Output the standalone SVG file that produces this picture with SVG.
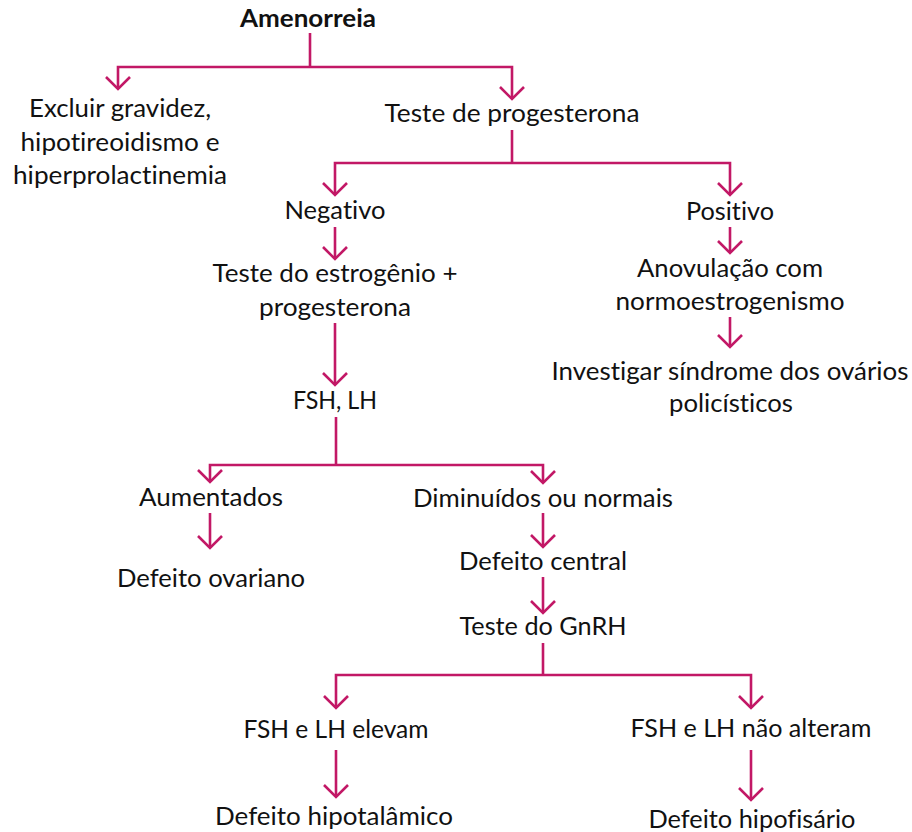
<svg xmlns="http://www.w3.org/2000/svg" width="912" height="832" viewBox="0 0 912 832">
  <style>
    text { font-family: Lato, "Liberation Sans", sans-serif; font-size: 25px; fill: #111; text-anchor: middle; font-variant-ligatures: none; font-feature-settings: "liga" 0, "clig" 0; }
    .title { font-weight: bold; }
    .link { fill: none; stroke: #C21866; stroke-width: 2.6; stroke-linejoin: miter; }
    .arr { marker-end: url(#head); }
  </style>
  <defs>
    <marker id="head" viewBox="-14 -14 28 28" markerWidth="28" markerHeight="28" refX="0" refY="0" orient="auto" markerUnits="userSpaceOnUse">
      <path d="M-12,-12 L0,0 L-12,12" fill="none" stroke="#C21866" stroke-width="2.6"/>
    </marker>
  </defs>

  <!-- connectors -->
  <g id="connectors">
    <path class="link" d="M310,33 V67"/>
    <path class="link arr" d="M310,67 H118 V89"/>
    <path class="link arr" d="M310,67 H512 V99"/>
    <path class="link" d="M512,130 V163"/>
    <path class="link arr" d="M512,163 H335 V195"/>
    <path class="link arr" d="M512,163 H730 V195"/>
    <path class="link arr" d="M335,227 V259"/>
    <path class="link arr" d="M335,323 V385"/>
    <path class="link arr" d="M730,227 V253"/>
    <path class="link arr" d="M730,317 V347"/>
    <path class="link" d="M336,417 V465"/>
    <path class="link arr" d="M336,465 H210 V482"/>
    <path class="link arr" d="M336,465 H543 V483"/>
    <path class="link arr" d="M210,513 V548"/>
    <path class="link arr" d="M543,513 V547"/>
    <path class="link arr" d="M543,577 V613"/>
    <path class="link" d="M543,643 V675"/>
    <path class="link arr" d="M543,675 H336 V708"/>
    <path class="link arr" d="M543,675 H751 V708"/>
    <path class="link arr" d="M336,750 V797"/>
    <path class="link arr" d="M751,750 V800"/>
  </g>

  <!-- nodes -->
  <g id="amenorreia"><text class="title" x="308" y="27" textLength="136" lengthAdjust="spacingAndGlyphs">Amenorreia</text></g>
  <g id="excluir">
    <text x="120" y="117" textLength="182" lengthAdjust="spacingAndGlyphs">Excluir gravidez,</text>
    <text x="120" y="151" textLength="199" lengthAdjust="spacingAndGlyphs">hipotireoidismo e</text>
    <text x="120" y="184" textLength="214" lengthAdjust="spacingAndGlyphs">hiperprolactinemia</text>
  </g>
  <g id="teste-progesterona"><text x="512" y="122" textLength="255" lengthAdjust="spacingAndGlyphs">Teste de progesterona</text></g>
  <g id="negativo"><text x="335" y="219" textLength="101" lengthAdjust="spacingAndGlyphs">Negativo</text></g>
  <g id="positivo"><text x="730" y="220" textLength="88" lengthAdjust="spacingAndGlyphs">Positivo</text></g>
  <g id="teste-estrogenio">
    <text x="335" y="282" textLength="245" lengthAdjust="spacingAndGlyphs">Teste do estrogênio +</text>
    <text x="335" y="316" textLength="152" lengthAdjust="spacingAndGlyphs">progesterona</text>
  </g>
  <g id="anovulacao">
    <text x="730" y="277" textLength="186" lengthAdjust="spacingAndGlyphs">Anovulação com</text>
    <text x="730" y="310" textLength="229" lengthAdjust="spacingAndGlyphs">normoestrogenismo</text>
  </g>
  <g id="investigar">
    <text x="730" y="380" textLength="357" lengthAdjust="spacingAndGlyphs">Investigar síndrome dos ovários</text>
    <text x="731" y="412" textLength="124" lengthAdjust="spacingAndGlyphs">policísticos</text>
  </g>
  <g id="fsh-lh"><text x="335" y="409" textLength="84" lengthAdjust="spacingAndGlyphs">FSH, LH</text></g>
  <g id="aumentados"><text x="211" y="506" textLength="144" lengthAdjust="spacingAndGlyphs">Aumentados</text></g>
  <g id="diminuidos"><text x="543" y="507" textLength="260" lengthAdjust="spacingAndGlyphs">Diminuídos ou normais</text></g>
  <g id="defeito-ovariano"><text x="211" y="587" textLength="188" lengthAdjust="spacingAndGlyphs">Defeito ovariano</text></g>
  <g id="defeito-central"><text x="543" y="570" textLength="168" lengthAdjust="spacingAndGlyphs">Defeito central</text></g>
  <g id="teste-gnrh"><text x="543" y="635" textLength="167" lengthAdjust="spacingAndGlyphs">Teste do GnRH</text></g>
  <g id="fsh-lh-elevam"><text x="336" y="738" textLength="185" lengthAdjust="spacingAndGlyphs">FSH e LH elevam</text></g>
  <g id="fsh-lh-nao-alteram"><text x="751" y="737" textLength="241" lengthAdjust="spacingAndGlyphs">FSH e LH não alteram</text></g>
  <g id="defeito-hipotalamico"><text x="334" y="825" textLength="238" lengthAdjust="spacingAndGlyphs">Defeito hipotalâmico</text></g>
  <g id="defeito-hipofisario"><text x="752" y="828" textLength="207" lengthAdjust="spacingAndGlyphs">Defeito hipofisário</text></g>
</svg>
